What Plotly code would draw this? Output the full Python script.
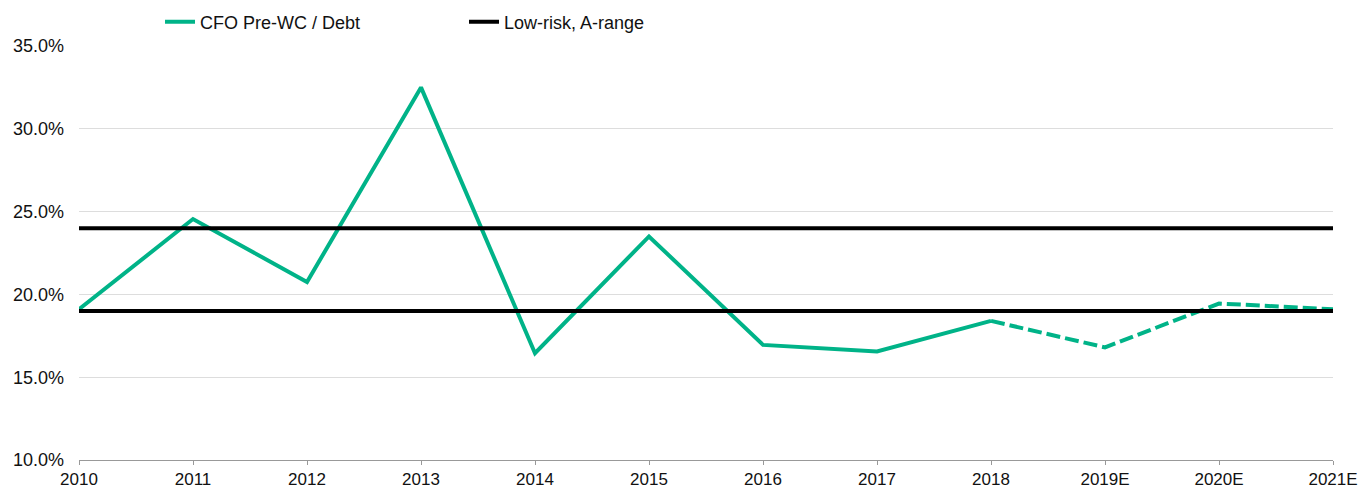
import plotly.graph_objects as go

categories = ["2010", "2011", "2012", "2013", "2014", "2015", "2016", "2017",
              "2018", "2019E", "2020E", "2021E"]
cfo_debt = [19.1, 24.55, 20.75, 32.5, 16.45, 23.5, 16.95, 16.55, 18.4, 16.8, 19.45, 19.1]
actual_count = 9  # 2010..2018 are actuals, rest are estimates
low_risk_upper = 24.0
low_risk_lower = 19.0

green = "#00B388"
idx = list(range(len(categories)))

fig = go.Figure()
fig.add_trace(go.Scatter(
    x=idx[:actual_count], y=cfo_debt[:actual_count], mode="lines",
    name="CFO Pre-WC / Debt", line=dict(color=green, width=4),
))
fig.add_trace(go.Scatter(
    x=idx[actual_count - 1:], y=cfo_debt[actual_count - 1:], mode="lines",
    name="CFO Pre-WC / Debt (E)", showlegend=False,
    line=dict(color=green, width=4, dash="14px,5px"),
))
fig.add_trace(go.Scatter(
    x=[idx[0], idx[-1], None, idx[0], idx[-1]],
    y=[low_risk_upper, low_risk_upper, None, low_risk_lower, low_risk_lower],
    mode="lines", name="Low-risk, A-range", line=dict(color="black", width=4),
))

fig.update_layout(
    width=1361, height=489,
    margin=dict(l=79, r=28, t=46, b=29, autoexpand=False),
    paper_bgcolor="white", plot_bgcolor="white",
    font=dict(family="Liberation Sans, Arial, sans-serif", size=18, color="#111"),
    showlegend=True,
    legend=dict(orientation="h", x=0.0646, xanchor="left", y=1.058, yanchor="middle",
                entrywidth=259, entrywidthmode="pixels",
                font=dict(size=18), bgcolor="rgba(0,0,0,0)", tracegroupgap=0),
    xaxis=dict(
        range=[0, len(categories) - 1], tickmode="array", tickvals=idx,
        ticktext=categories, showgrid=False, zeroline=False,
        showline=True, linecolor="#999999", linewidth=1,
        ticks="outside", ticklen=4, tickcolor="#999999", automargin=False,
        tickfont=dict(size=17),
    ),
    yaxis=dict(
        range=[10, 35], dtick=5, tickformat=".1f", ticksuffix="%",
        showgrid=True, gridcolor="#dddddd", gridwidth=1, zeroline=False,
        showline=False, ticklabelstandoff=14, automargin=False,
    ),
)

fig.write_html(
    "out.html",
    config={"displayModeBar": False},
    post_script="document.body.style.margin='0';document.body.style.overflow='hidden';",
)
